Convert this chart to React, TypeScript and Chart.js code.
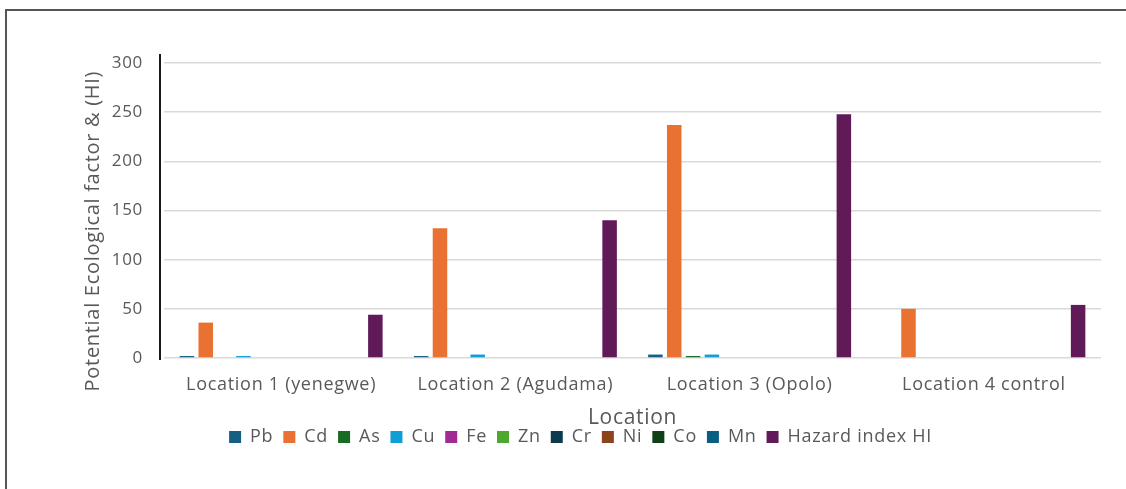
import React, { useEffect, useRef } from "react";
import { Chart, registerables } from "chart.js";

Chart.register(...registerables);

// Sampling locations along the x axis
const locations = [
  "Location 1 (yenegwe)",
  "Location 2 (Agudama)",
  "Location 3 (Opolo)",
  "Location 4 control",
];

// Potential ecological risk factor per metal, and the hazard index
const pb = [2, 2, 3.5, 0];
const cd = [36, 132, 237, 50];
const as = [0, 0, 2, 0];
const cu = [2, 3.5, 3.5, 0];
const fe = [0, 0, 0, 0];
const zn = [0, 0, 0, 0];
const cr = [0, 0, 0, 0];
const ni = [0, 0, 0, 0];
const co = [0, 0, 0, 0];
const mn = [0, 0, 0, 0];
const hazardIndex = [44, 140, 248, 54];

const yTicks = [0, 50, 100, 150, 200, 250, 300];

const seriesNames = ["Pb", "Cd", "As", "Cu", "Fe", "Zn", "Cr", "Ni", "Co", "Mn", "Hazard index HI"];
const seriesValues = [pb, cd, as, cu, fe, zn, cr, ni, co, mn, hazardIndex];
const seriesColors = [
  "#156082", "#E97132", "#196B24", "#0F9ED5", "#A02B93", "#4EA72E",
  "#0D3A4E", "#8C441E", "#0F4016", "#095F80", "#601A58",
];

const FONT = "'Open Sans', 'Noto Sans', sans-serif";
const TEXT = "#595959";
const LETTER_SPACING = "0.7px";

// Slightly open letter spacing for every label on the canvas
const spacingPlugin = {
  id: "letterSpacing",
  beforeUpdate(chart: any) {
    chart.ctx.letterSpacing = LETTER_SPACING;
  },
  beforeDraw(chart: any) {
    chart.ctx.letterSpacing = LETTER_SPACING;
  },
};

// Dark vertical axis line drawn just left of the plot area
const axisLinePlugin = {
  id: "axisLine",
  afterDraw(chart: any) {
    const { ctx, chartArea } = chart;
    ctx.save();
    ctx.strokeStyle = "#1a1a1a";
    ctx.lineWidth = 2;
    ctx.beginPath();
    ctx.moveTo(chartArea.left - 4, chartArea.top - 9);
    ctx.lineTo(chartArea.left - 4, chartArea.bottom + 2);
    ctx.stroke();
    ctx.restore();
  },
};

export default function App() {
  const canvasRef = useRef<HTMLCanvasElement | null>(null);

  useEffect(() => {
    if (!canvasRef.current) return;
    const padLeft = 60;
    const plotLeft = 164;
    const plotTop = 63;
    const plotBottom = 358;
    const legendFont = 18;
    const legendPad = 10;
    const legendTextY = 437;
    const legendTop = legendTextY - legendPad - legendFont / 2;
    const legendHeight = legendFont + legendPad + 10;
    const xAxisHeight = legendTop - plotBottom;
    const padBottom = 489 - legendTop - legendHeight;
    const xTitleFont = 21;
    const xTitleY = 418;

    const chart = new Chart(canvasRef.current, {
      type: "bar",
      data: {
        labels: locations,
        datasets: seriesNames.map((name, i) => ({
          label: name,
          data: seriesValues[i],
          backgroundColor: seriesColors[i],
          borderWidth: 0,
          categoryPercentage: 0.885,
          barPercentage: 0.77,
        })),
      },
      options: {
        animation: false,
        responsive: false,
        maintainAspectRatio: false,
        layout: { padding: { left: padLeft, right: 25, top: plotTop, bottom: padBottom } },
        plugins: {
          tooltip: { enabled: false },
          legend: {
            position: "bottom",
            labels: {
              boxWidth: 12,
              boxHeight: 12,
              padding: legendPad,
              color: TEXT,
              font: { family: FONT, size: legendFont },
            },
          },
        },
        scales: {
          x: {
            grid: { display: false, drawTicks: false },
            border: { display: false },
            ticks: { color: TEXT, font: { family: FONT, size: 18 }, padding: 16 },
            title: {
              display: true,
              text: "Location",
              color: TEXT,
              font: { family: FONT, size: xTitleFont },
              padding: { top: 0, bottom: legendTop - (xTitleFont * 1.2) / 2 - xTitleY },
            },
            afterFit(scale: any) {
              scale.height = xAxisHeight;
            },
          },
          y: {
            min: 0,
            max: 300,
            afterBuildTicks(scale: any) {
              scale.ticks = yTicks.map((v) => ({ value: v }));
            },
            grid: { color: "#d9d9d9", lineWidth: 1.5, drawTicks: false },
            border: { display: false },
            ticks: { color: TEXT, font: { family: FONT, size: 17 }, padding: 21 },
            title: {
              display: true,
              // trailing spaces sit the title a little below the plot's midline
              text: "Potential Ecological factor & (HI)\u00a0\u00a0\u00a0\u00a0\u00a0\u00a0\u00a0",
              color: TEXT,
              font: { family: FONT, size: 20 },
              padding: { top: 21, bottom: 0 },
            },
            afterFit(scale: any) {
              scale.width = plotLeft - padLeft;
            },
          },
        },
      },
      plugins: [spacingPlugin, axisLinePlugin],
    });
    return () => chart.destroy();
  }, []);

  return (
    <div style={{ position: "fixed", left: 0, top: 0, width: 1126, height: 489, background: "#fff", overflow: "hidden" }}>
      <div
        style={{
          position: "absolute",
          left: 5,
          top: 9,
          width: 1130,
          height: 500,
          borderLeft: "2px solid #555",
          borderTop: "2px solid #555",
          boxSizing: "border-box",
        }}
      />
      <canvas ref={canvasRef} width={1126} height={489} style={{ position: "absolute", left: 0, top: 0 }} />
    </div>
  );
}
